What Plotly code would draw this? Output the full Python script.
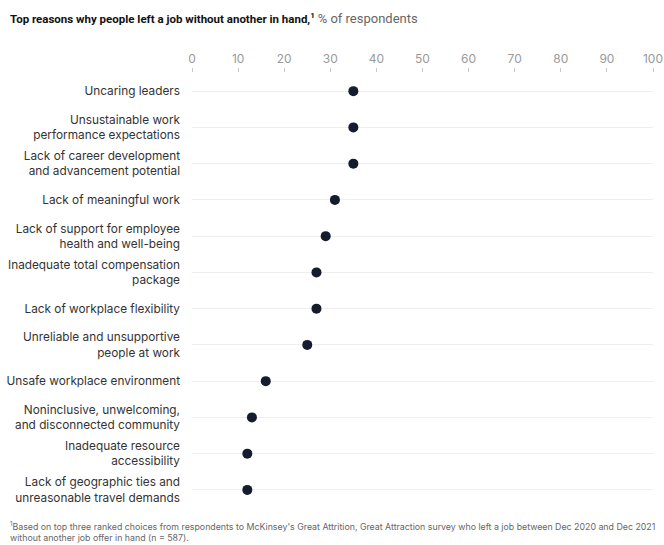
import plotly.graph_objects as go

categories = [
    "Uncaring leaders",
    "Unsustainable work<br>performance expectations",
    "Lack of career development<br>and advancement potential",
    "Lack of meaningful work",
    "Lack of support for employee<br>health and well-being",
    "Inadequate total compensation<br>package",
    "Lack of workplace flexibility",
    "Unreliable and unsupportive<br>people at work",
    "Unsafe workplace environment",
    "Noninclusive, unwelcoming,<br>and disconnected community",
    "Inadequate resource<br>accessibility",
    "Lack of geographic ties and<br>unreasonable travel demands",
]
values = [35, 35, 35, 31, 29, 27, 27, 25, 16, 13, 12, 12]
x_ticks = [0, 10, 20, 30, 40, 50, 60, 70, 80, 90, 100]

FONT = "Inter"
L, R, T, B = 192, 11, 73, 37
PW, PH = 664 - L - R, 545 - T - B

fig = go.Figure()
fig.add_trace(go.Scatter(
    x=values, y=categories, mode="markers",
    marker=dict(size=10, color="#141c2e"),
    hoverinfo="x+y", showlegend=False,
))

fig.update_layout(
    width=664, height=545,
    margin=dict(l=L, r=R, t=T, b=B),
    paper_bgcolor="white", plot_bgcolor="white",
    font=dict(family=FONT, size=12, color="#333333"),
    xaxis=dict(
        range=[0, 100], side="top", tickvals=x_ticks,
        ticks="outside", ticklen=4, tickcolor="#c8c8c8", tickwidth=1,
        tickfont=dict(size=12, color="#9a9a9a"),
        showgrid=False, zeroline=False, showline=False,
        automargin=False, fixedrange=True,
    ),
    yaxis=dict(
        categoryorder="array", categoryarray=categories,
        range=[len(categories) - 0.5, -0.5],
        showgrid=True, gridcolor="#eeeeee", gridwidth=1,
        zeroline=False, showline=False, ticks="",
        ticklabelstandoff=11, automargin=False,
        tickfont=dict(size=11.8, color="#333333"),
    ),
)

fig.add_annotation(
    xref="paper", yref="paper",
    x=(8 - L) / PW, y=(545 - B - 18) / PH,
    xanchor="left", yanchor="middle", showarrow=False,
    text="<b>Top reasons why people left a job without another in hand,<sup>1</sup></b> <span style='color:#666666;font-size:13px'>% of respondents</span>",
    font=dict(size=11.5, color="#111111", family="Roboto"),
)

fig.add_annotation(
    xref="paper", yref="paper",
    x=(8 - L) / PW, y=-(531 - (545 - B)) / PH,
    xanchor="left", yanchor="middle", showarrow=False, align="left",
    text="<sup>1</sup>Based on top three ranked choices from respondents to McKinsey's Great Attrition, Great Attraction survey who left a job between Dec 2020 and Dec 2021<br>without another job offer in hand (n = 587).",
    font=dict(size=8.8, color="#666666", family=FONT),
)

fig.write_html("out.html")
